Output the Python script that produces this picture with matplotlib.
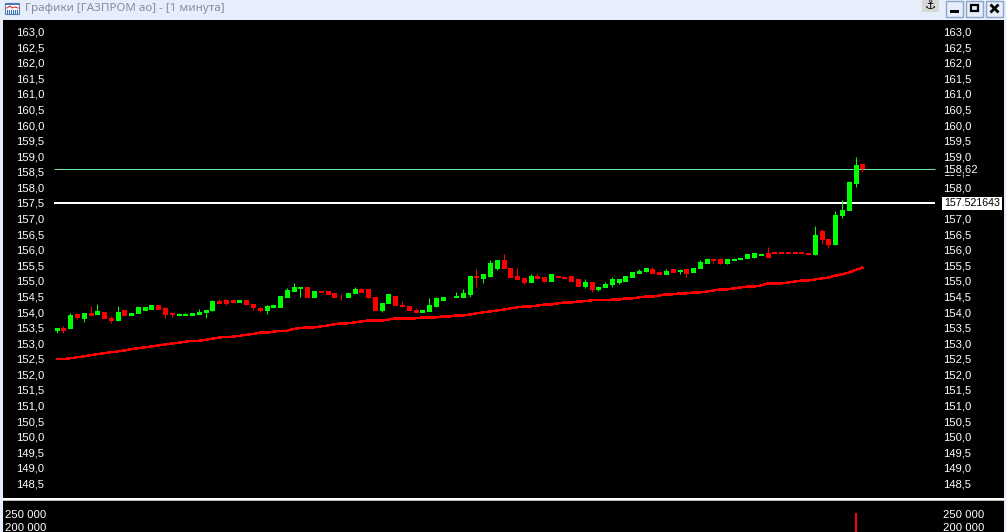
import matplotlib
matplotlib.use('Agg')
import matplotlib.pyplot as plt
from matplotlib.patches import Rectangle
from matplotlib.transforms import blended_transform_factory
import numpy as np

plt.rcParams['font.family'] = ['Liberation Sans', 'DejaVu Sans']

title = 'Графики [ГАЗПРОМ ао] - [1 минута]'

price_labels = ['163,0', '162,5', '162,0', '161,5', '161,0', '160,5', '160,0', '159,5', '159,0', '158,5',
                '158,0', '157,5', '157,0', '156,5', '156,0', '155,5', '155,0', '154,5', '154,0', '153,5',
                '153,0', '152,5', '152,0', '151,5', '151,0', '150,5', '150,0', '149,5', '149,0', '148,5']
volume_labels = ['250 000', '200 000']

opens = [153.45, 153.51, 153.51, 153.96, 153.83, 154.00, 153.96, 154.03, 153.83, 153.77,
         154.09, 153.93, 153.99, 154.09, 154.12, 154.25, 154.16, 154.00, 153.94, 153.94,
         153.94, 153.96, 154.03, 154.09, 154.38, 154.41, 154.41, 154.36, 154.41, 154.28,
         154.16, 154.09, 154.19, 154.19, 154.51, 154.72, 154.79, 154.85, 154.50, 154.72,
         154.72, 154.63, 154.53, 154.50, 154.63, 154.76, 154.76, 154.53, 154.11, 154.31,
         154.56, 154.27, 154.24, 154.11, 154.02, 154.08, 154.24, 154.43, 154.53, 154.50,
         154.53, 154.60, 155.20, 155.11, 155.20, 155.46, 155.69, 155.46, 155.20, 155.11,
         155.01, 155.20, 155.14, 155.04, 155.20, 155.17, 155.20, 155.08, 154.88, 154.98,
         154.76, 154.82, 154.92, 155.01, 155.04, 155.14, 155.27, 155.36, 155.40, 155.33,
         155.24, 155.40, 155.35, 155.40, 155.33, 155.43, 155.59, 155.72, 155.72, 155.59,
         155.69, 155.72, 155.75, 155.81, 155.85, 155.91, 155.97, 155.97, 155.97, 155.97,
         155.97, 155.91, 155.88, 156.62, 156.39, 156.20, 157.13, 157.29, 158.16, 158.77]
highs = [153.51, 153.59, 154.00, 154.00, 153.99, 154.22, 154.28, 154.03, 153.90, 154.22,
         154.09, 153.99, 154.19, 154.19, 154.25, 154.25, 154.19, 154.00, 154.00, 154.00,
         154.00, 154.12, 154.09, 154.41, 154.44, 154.41, 154.41, 154.41, 154.41, 154.28,
         154.19, 154.25, 154.25, 154.54, 154.80, 154.95, 154.85, 154.85, 154.72, 154.72,
         154.72, 154.63, 154.60, 154.63, 154.85, 154.79, 154.76, 154.53, 154.31, 154.60,
         154.56, 154.37, 154.24, 154.15, 154.11, 154.47, 154.53, 154.53, 154.53, 154.66,
         154.76, 155.20, 155.40, 155.24, 155.69, 155.69, 155.88, 155.46, 155.46, 155.17,
         155.24, 155.24, 155.17, 155.24, 155.20, 155.20, 155.20, 155.08, 155.08, 154.98,
         154.88, 154.98, 155.14, 155.08, 155.20, 155.33, 155.40, 155.43, 155.49, 155.36,
         155.40, 155.40, 155.40, 155.40, 155.46, 155.69, 155.75, 155.72, 155.75, 155.72,
         155.75, 155.75, 155.88, 155.91, 155.88, 156.13, 155.97, 155.97, 155.97, 155.97,
         155.97, 155.91, 156.78, 156.68, 156.39, 157.26, 157.64, 158.25, 158.99, 158.77]
lows = [153.36, 153.36, 153.51, 153.80, 153.71, 153.93, 153.96, 153.83, 153.67, 153.74,
        153.93, 153.93, 153.99, 154.09, 154.12, 154.12, 153.83, 153.87, 153.94, 153.94,
        153.94, 153.96, 153.83, 154.06, 154.32, 154.25, 154.35, 154.36, 154.25, 154.09,
        154.03, 153.96, 154.19, 154.19, 154.51, 154.72, 154.53, 154.50, 154.50, 154.66,
        154.60, 154.50, 154.43, 154.50, 154.63, 154.69, 154.47, 154.11, 154.02, 154.31,
        154.27, 154.21, 154.11, 154.02, 154.02, 154.08, 154.24, 154.43, 154.50, 154.50,
        154.53, 154.53, 154.82, 154.95, 155.17, 155.37, 155.43, 155.14, 155.08, 154.92,
        155.01, 155.08, 155.01, 155.04, 155.14, 155.11, 155.04, 154.88, 154.79, 154.69,
        154.72, 154.82, 154.85, 154.92, 155.04, 155.14, 155.27, 155.33, 155.30, 155.24,
        155.24, 155.33, 155.24, 155.17, 155.33, 155.43, 155.59, 155.62, 155.56, 155.56,
        155.69, 155.72, 155.75, 155.78, 155.85, 155.81, 155.94, 155.94, 155.94, 155.94,
        155.94, 155.88, 155.85, 156.20, 156.10, 156.17, 157.04, 157.29, 158.03, 158.54]
closes = [153.51, 153.45, 153.93, 153.86, 153.99, 153.93, 154.06, 153.83, 153.77, 154.03,
          153.93, 153.99, 154.19, 154.19, 154.25, 154.12, 153.96, 153.96, 153.97, 153.97,
          154.00, 154.03, 154.09, 154.38, 154.32, 154.32, 154.35, 154.41, 154.28, 154.19,
          154.09, 154.22, 154.25, 154.54, 154.73, 154.82, 154.84, 154.50, 154.72, 154.66,
          154.60, 154.50, 154.50, 154.63, 154.76, 154.69, 154.50, 154.11, 154.31, 154.60,
          154.27, 154.21, 154.11, 154.02, 154.11, 154.27, 154.47, 154.53, 154.50, 154.56,
          154.63, 155.20, 155.14, 155.24, 155.59, 155.69, 155.43, 155.14, 155.08, 155.01,
          155.20, 155.11, 155.04, 155.24, 155.14, 155.11, 155.04, 154.88, 154.98, 154.76,
          154.85, 154.92, 155.08, 155.08, 155.20, 155.33, 155.36, 155.43, 155.30, 155.24,
          155.36, 155.33, 155.38, 155.27, 155.46, 155.65, 155.72, 155.69, 155.62, 155.72,
          155.72, 155.75, 155.88, 155.91, 155.88, 155.81, 155.94, 155.94, 155.94, 155.94,
          155.94, 155.88, 156.49, 156.36, 156.20, 157.16, 157.32, 158.19, 158.74, 158.64]
moving_average = [152.52, 152.52, 152.55, 152.58, 152.61, 152.65, 152.68, 152.71, 152.74, 152.77,
                  152.80, 152.84, 152.87, 152.90, 152.93, 152.96, 152.99, 153.02, 153.05, 153.08,
                  153.11, 153.11, 153.14, 153.18, 153.21, 153.24, 153.24, 153.27, 153.30, 153.33,
                  153.37, 153.37, 153.40, 153.43, 153.43, 153.49, 153.52, 153.54, 153.54, 153.57,
                  153.60, 153.64, 153.67, 153.67, 153.70, 153.73, 153.76, 153.76, 153.76, 153.79,
                  153.83, 153.83, 153.83, 153.83, 153.86, 153.86, 153.86, 153.89, 153.89, 153.92,
                  153.92, 153.95, 153.99, 154.02, 154.05, 154.08, 154.11, 154.15, 154.18, 154.21,
                  154.21, 154.24, 154.27, 154.27, 154.31, 154.34, 154.34, 154.37, 154.38, 154.41,
                  154.41, 154.41, 154.43, 154.43, 154.47, 154.47, 154.50, 154.53, 154.53, 154.56,
                  154.60, 154.60, 154.63, 154.63, 154.66, 154.66, 154.69, 154.72, 154.76, 154.76,
                  154.79, 154.82, 154.85, 154.85, 154.88, 154.95, 154.95, 154.95, 154.98, 155.01,
                  155.04, 155.04, 155.08, 155.11, 155.14, 155.20, 155.24, 155.30, 155.38, 155.46]

last_price = 158.62
level_price = 157.521643
volume_bar_index = [118]
volume_bar_value = [255800]

W, H = 1006, 532
GREEN, RED = '#00ff00', '#ff0000'
FRAME = '#e6eefb'
LABEL_SIZE = 8.1

# pixel scale of the terminal window
PX_PER_UNIT = 31.17
PX_PER_BAR = 6.77
X0 = 56.7
Y0 = 32.5  # pixel row of 163.0
PT = 0.72  # one pixel in points at dpi 100


def price_ylim(top, bottom):
    return 163 - (bottom - Y0) / PX_PER_UNIT, 163 - (top - Y0) / PX_PER_UNIT


def add_axes(left, top, right, bottom):
    ax = fig.add_axes([left / W, 1 - bottom / H, (right - left) / W, (bottom - top) / H])
    ax.set_facecolor('black')
    ax.set_xticks([])
    ax.set_yticks([])
    for s in ax.spines.values():
        s.set_visible(False)
    ax.set_xlim((left - X0) / PX_PER_BAR, (right - X0) / PX_PER_BAR)
    return ax


fig = plt.figure(figsize=(W / 100, H / 100), dpi=100, facecolor=FRAME)

# window chrome, in pixels
bg = fig.add_axes([0, 0, 1, 1])
bg.set_xlim(0, W)
bg.set_ylim(H, 0)
bg.axis('off')
bg.text(25, 8.5, title, family=['Noto Sans', 'DejaVu Sans'], fontsize=8.4, color='#8b8b9b', va='center')

# small chart icon
bg.add_patch(Rectangle((5.5, 2.5), 14, 11, fc='white', ec='#5a7fb0', lw=0.8))
bg.add_patch(Rectangle((5.5, 2.5), 14, 2, fc='#4a78b8', ec='none'))
bg.plot([7, 10, 12, 15, 18], [8, 6, 8, 7, 8], color='#d03030', lw=0.8)
for ix in [7, 9, 11, 13, 15, 17]:
    bg.plot([ix, ix], [13, 10], color='#3a70c0', lw=0.8)

# anchor and window buttons
bg.add_patch(Rectangle((922, 0), 17, 11.5, fc='#d8d8d8', ec='none'))
bg.text(930.5, 5.5, '⚓', family='DejaVu Sans', fontsize=9, color='black', ha='center', va='center')
for bx in [946, 966, 986]:
    bg.add_patch(Rectangle((bx, 0.5), 17, 16, fc=FRAME, ec='#8fa4c8', lw=1))
bg.add_patch(Rectangle((950, 10), 9, 3, fc='black', ec='none'))
bg.add_patch(Rectangle((971, 5), 7, 6, fc='none', ec='black', lw=1.6))
bg.plot([990.5, 998.5], [4.5, 12.5], color='black', lw=2, solid_capstyle='butt')
bg.plot([990.5, 998.5], [12.5, 4.5], color='black', lw=2, solid_capstyle='butt')

# price panel
ax = add_axes(3, 20, 1004, 498)
ax.set_ylim(*price_ylim(20, 498))

idx = np.arange(len(closes))
colors = [GREEN if b > a else RED for a, b in zip(opens, closes)]

line_x0, line_x1 = (54 - X0) / PX_PER_BAR, (935 - X0) / PX_PER_BAR
ax.hlines(last_price, line_x0, line_x1, color='#62e59c', lw=PT, zorder=1)
ax.hlines(level_price, line_x0, line_x1, color='white', lw=2 * PT, zorder=1)

ax.plot(idx, moving_average, color=RED, lw=1.0, antialiased=False, zorder=2)
ax.vlines(idx, lows, highs, colors=colors, lw=PT, zorder=3)
# bodies as wide strokes so that each one snaps to the same pixel width
ax.vlines(idx, opens, closes, colors=colors, lw=5 * PT, capstyle='butt', antialiased=False, zorder=4)

trans = blended_transform_factory(bg.transData, ax.transData)
for label in price_labels:
    val = float(label.replace(',', '.'))
    ax.text(16.5, val, label, transform=trans, color='white', fontsize=LABEL_SIZE, va='center')
    ax.text(943.5, val, label, transform=trans, color='white', fontsize=LABEL_SIZE, va='center')

ax.text(943.5, last_price, f'{last_price:.2f}'.replace('.', ','), transform=trans, color='white', fontsize=LABEL_SIZE,
        va='center', zorder=6, bbox=dict(fc='black', ec='none', pad=0.6))
ax.text(944, level_price, f'{level_price:.6f}', transform=trans, color='black', fontsize=7.7,
        va='center', zorder=6, bbox=dict(fc='white', ec='none', pad=1.2))

# separator between the panels
bg.add_patch(Rectangle((3, 498), 1001, 2.2, fc='white', ec='none'))
bg.add_patch(Rectangle((3, 500.2), 1001, 0.8, fc='#b8b8b8', ec='none'))

# volume panel, only the tallest bar reaches the visible part
vol = add_axes(3, 501, 1004, 532)
vol.set_ylim(200000 - 4 * 50000 / 13, 250000 + 14 * 50000 / 13)
vol.bar(volume_bar_index, volume_bar_value, width=2 / PX_PER_BAR, color=RED, lw=0, antialiased=False)
trans_v = blended_transform_factory(bg.transData, vol.transData)
for label in volume_labels:
    val = int(label.replace(' ', ''))
    vol.text(5, val, label, transform=trans_v, color='white', fontsize=LABEL_SIZE, va='center')
    vol.text(943, val, label, transform=trans_v, color='white', fontsize=LABEL_SIZE, va='center')

fig.savefig('out.png', dpi=100, facecolor=FRAME)
